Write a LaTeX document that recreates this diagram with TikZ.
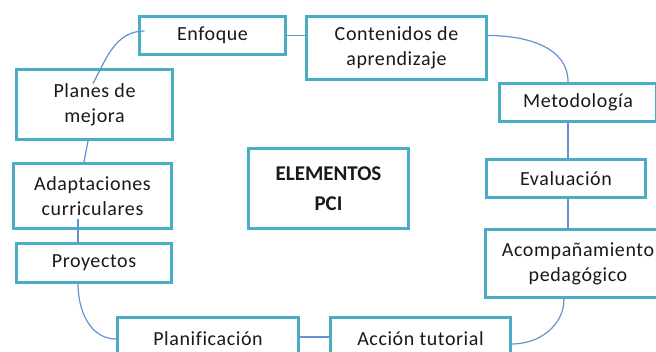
\documentclass[tikz,border=0pt]{standalone}
\usepackage{fontspec}
\setmainfont[Ligatures=CommonOff,LetterSpace=3]{Carlito}
\newfontfamily\titlefont[Ligatures=CommonOff]{Carlito}
\definecolor{boxline}{RGB}{75,172,198}
\definecolor{conn}{RGB}{100,145,210}
\definecolor{txt}{RGB}{25,25,25}
\begin{document}
\begin{tikzpicture}[x=1pt,y=1pt,
  box/.style={draw=boxline,line width=3pt,fill=white,align=center,inner sep=0pt,
    font=\fontsize{20}{25}\selectfont,text=txt},
  link/.style={draw=conn,line width=1.2pt}]
\useasboundingbox (0,0) rectangle (656,352);
\begin{scope}
\clip (0,0) rectangle (656,352);
\node[box,minimum width=146pt,minimum height=38pt] (enf) at (212.5,316.5) {Enfoque};
\node[box,minimum width=180pt,minimum height=63pt] (cont) at (396.5,304) {\raisebox{-3pt}{\begin{tabular}{@{}c@{}}Contenidos de\\aprendizaje\end{tabular}}};
\node[box,minimum width=156pt,minimum height=70pt] (plan) at (94.5,247.5) {Planes de\\mejora};
\node[box,minimum width=158pt,minimum height=65pt] (adap) at (92.5,156) {Adaptaciones\\curriculares};
\node[box,minimum width=155pt,minimum height=39pt] (proy) at (94,89) {Proyectos};
\node[box,minimum width=181pt,minimum height=43pt] (planif) at (208,13) {Planificación};
\node[box,minimum width=180pt,minimum height=43pt] (accion) at (420.5,13) {Acción tutorial};
\node[box,minimum width=157pt,minimum height=38pt] (metod) at (578,249.5) {Metodología};
\node[box,minimum width=159pt,minimum height=38pt] (eval) at (566,173.5) {Evaluación};
\node[box,minimum width=185pt,minimum height=68pt] (acomp) at (578,88.5) {Acompañamiento\\pedagógico};
\node[box,minimum width=160pt,minimum height=80pt,font=\titlefont\fontsize{21}{30}\selectfont\bfseries] (elem) at (328.5,163.5) {ELEMENTOS\\PCI};

\draw[link] (enf.east) -- (enf.east -| cont.west);
\draw[link] (enf.east -| cont.east) to[out=0,in=90] ([xshift=-10pt]metod.north);
\draw[link] ([xshift=-10pt]metod.south) -- ([xshift=2pt]eval.north);
\draw[link] ([xshift=2pt]eval.south) -- ([xshift=-10pt]acomp.north);
\draw[link] ([xshift=-14pt]acomp.south) to[out=-90,in=0] ([yshift=-5pt]accion.east);
\draw[link] ([yshift=2pt]planif.east) -- ([yshift=2pt]accion.west);
\draw[link] ([xshift=-16pt]proy.south) to[out=-90,in=180] (planif.west);
\draw[link] ([xshift=-16pt]proy.north) -- ([xshift=-14.5pt,yshift=11pt]adap.south);
\draw[link] ([xshift=-8.5pt]adap.north) -- ([xshift=-6.5pt]plan.south);
\draw[link] ([xshift=-1.5pt,yshift=-15.5pt]plan.north) to[out=62,in=180] ([xshift=6.5pt,yshift=4.5pt]enf.west);
\end{scope}
\end{tikzpicture}
\end{document}
